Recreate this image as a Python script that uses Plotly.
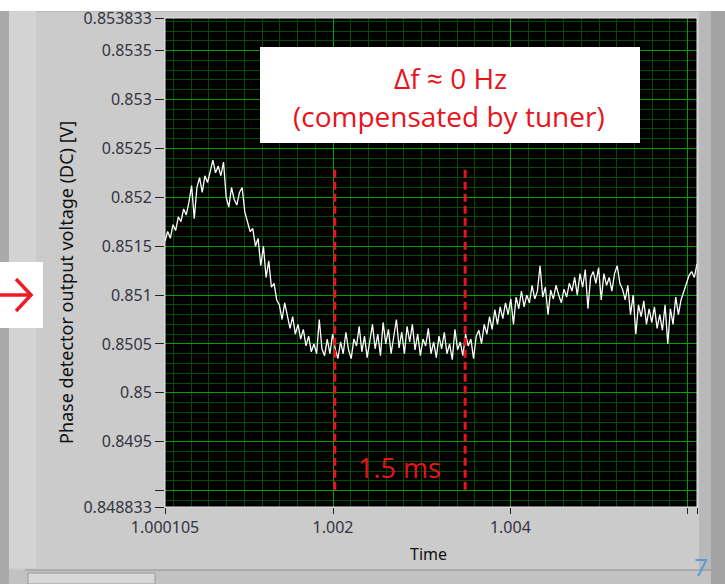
import plotly.graph_objects as go

# ---------------- data ----------------
t_start = 1.000105
t_end = 1.006105
n_pts = 201
dt = (t_end - t_start) / (n_pts - 1)
time = [t_start + i * dt for i in range(n_pts)]

voltage = [
    0.85155, 0.85165, 0.85158, 0.85172, 0.85166, 0.85180, 0.85175, 0.85188, 0.85182, 0.85195,
    0.85212, 0.85178, 0.85210, 0.85220, 0.85205, 0.85222, 0.85215, 0.85228, 0.85238, 0.85225,
    0.85232, 0.85222, 0.85236, 0.85200, 0.85190, 0.85210, 0.85198, 0.85192, 0.85205, 0.85210,
    0.85185, 0.85175, 0.85165, 0.85168, 0.85150, 0.85158, 0.85130, 0.85150, 0.85118, 0.85135,
    0.85108, 0.85112, 0.85095, 0.85090, 0.85075, 0.85092, 0.85080, 0.85066, 0.85078, 0.85060,
    0.85070, 0.85055, 0.85065, 0.85048, 0.85058, 0.85042, 0.85050, 0.85040, 0.85075, 0.85045,
    0.85038, 0.85055, 0.85040, 0.85060, 0.85045, 0.85035, 0.85052, 0.85040, 0.85062, 0.85044,
    0.85035, 0.85055, 0.85048, 0.85068, 0.85042, 0.85058, 0.85036, 0.85052, 0.85070, 0.85045,
    0.85060, 0.85038, 0.85072, 0.85050, 0.85065, 0.85040, 0.85058, 0.85075, 0.85046, 0.85062,
    0.85040, 0.85068, 0.85052, 0.85070, 0.85044, 0.85060, 0.85038, 0.85055, 0.85048, 0.85066,
    0.85040, 0.85052, 0.85036, 0.85058, 0.85045, 0.85062, 0.85040, 0.85050, 0.85034, 0.85065,
    0.85044, 0.85052, 0.85038, 0.85060, 0.85048, 0.85055, 0.85035, 0.85058, 0.85064, 0.85050,
    0.85070, 0.85060, 0.85078, 0.85065, 0.85085, 0.85070, 0.85088, 0.85076, 0.85092, 0.85080,
    0.85096, 0.85070, 0.85098, 0.85086, 0.85104, 0.85088, 0.85100, 0.85092, 0.85110, 0.85096,
    0.85104, 0.85130, 0.85098, 0.85108, 0.85080, 0.85105, 0.85096, 0.85110, 0.85100, 0.85092,
    0.85106, 0.85098, 0.85112, 0.85104, 0.85118, 0.85100, 0.85122, 0.85108, 0.85126, 0.85086,
    0.85118, 0.85124, 0.85112, 0.85128, 0.85095, 0.85122, 0.85110, 0.85118, 0.85104, 0.85122,
    0.85130, 0.85112, 0.85106, 0.85095, 0.85110, 0.85080, 0.85100, 0.85060, 0.85090, 0.85078,
    0.85094, 0.85070, 0.85086, 0.85072, 0.85088, 0.85066, 0.85080, 0.85064, 0.85090, 0.85050,
    0.85086, 0.85070, 0.85098, 0.85080, 0.85095, 0.85104, 0.85112, 0.85120, 0.85124, 0.85118,
    0.85132,
]

marker_times = [1.00202, 1.00349]
marker_v_range = [0.84901, 0.85230]

x_tick_vals = [1.000105, 1.002, 1.004, 1.006, 1.006105]
x_tick_text = ["1.000105", "1.002", "1.004", "", "1.006105"]
y_tick_vals = [0.848833, 0.849, 0.8495, 0.85, 0.8505, 0.851, 0.8515, 0.852, 0.8525, 0.853, 0.8535, 0.853833]
y_tick_text = ["0.848833", "", "0.8495", "0.85", "0.8505", "0.851", "0.8515", "0.852", "0.8525", "0.853", "0.8535", "0.853833"]

y_title = "Phase detector output voltage (DC) [V]"
x_title = "Time"
box_line1 = "Δf ≈ 0 Hz"
box_line2 = "(compensated by tuner)"
span_label = "1.5 ms"

# ---------------- layout helpers ----------------
W, H = 725, 584
L, R, T, B = 165, 697, 18, 507


def px(x):
    return (x - L) / (R - L)


def py(y):
    return (B - y) / (B - T)


RED = "#e8131b"
PANEL = "#cbcbcb"

fig = go.Figure()

fig.add_trace(go.Scatter(x=time, y=voltage, mode="lines",
                         line=dict(color="white", width=1.3), hoverinfo="skip"))
for mt in marker_times:
    fig.add_trace(go.Scatter(x=[mt, mt], y=marker_v_range, mode="lines",
                             line=dict(color=RED, width=3, dash="8px,4px"), hoverinfo="skip"))

tickfont = dict(family="Noto Sans, sans-serif", size=16, color="#34343f")

fig.update_layout(
    width=W, height=H,
    margin=dict(l=L, r=W - R, t=T, b=H - B, pad=0),
    paper_bgcolor=PANEL,
    plot_bgcolor="black",
    showlegend=False,
    xaxis=dict(
        range=[t_start, t_end], tickmode="array", tickvals=x_tick_vals, ticktext=x_tick_text,
        ticks="outside", ticklen=6, tickcolor="#222", tickwidth=1, automargin=False,
        showgrid=True, gridcolor="#00a000", gridwidth=1,
        zeroline=False, showline=False, tickfont=tickfont,
        minor=dict(tickmode="linear", tick0=1.002, dtick=0.0002, showgrid=True,
                   gridcolor="#004d00", gridwidth=1, ticks=""),
    ),
    yaxis=dict(
        range=[0.848833, 0.853833], tickmode="array", tickvals=y_tick_vals, ticktext=y_tick_text,
        ticks="outside", ticklen=9, tickcolor="#222", tickwidth=1, automargin=False,
        showgrid=True, gridcolor="#00a000", gridwidth=1,
        zeroline=False, showline=False, tickfont=tickfont,
        minor=dict(tickmode="linear", tick0=0.85, dtick=0.0001, showgrid=True,
                   gridcolor="#004d00", gridwidth=1, ticks=""),
    ),
)

shapes = []
# top white strip (slide background)
shapes.append(dict(type="rect", xref="paper", yref="paper", x0=px(0), x1=px(W), y0=py(11), y1=py(0),
                   fillcolor="white", line=dict(width=0), layer="below"))
shapes.append(dict(type="line", xref="paper", yref="paper", x0=px(0), x1=px(W), y0=py(11.5), y1=py(11.5),
                   line=dict(color="#b8b8b8", width=1), layer="below"))
# left edge strips
shapes.append(dict(type="rect", xref="paper", yref="paper", x0=px(0), x1=px(9), y0=py(H), y1=py(11),
                   fillcolor="#a9a9a9", line=dict(width=0), layer="below"))
shapes.append(dict(type="rect", xref="paper", yref="paper", x0=px(9), x1=px(36), y0=py(568), y1=py(11),
                   fillcolor="#d3d3d3", line=dict(width=0), layer="below"))
# right edge strips
shapes.append(dict(type="rect", xref="paper", yref="paper", x0=px(699), x1=px(711), y0=py(H), y1=py(11),
                   fillcolor="#b9b9b9", line=dict(width=0), layer="below"))
shapes.append(dict(type="rect", xref="paper", yref="paper", x0=px(711), x1=px(W), y0=py(H), y1=py(11),
                   fillcolor="#a2a2a2", line=dict(width=0), layer="below"))
# bottom bar
shapes.append(dict(type="rect", xref="paper", yref="paper", x0=px(9), x1=px(711), y0=py(H), y1=py(570),
                   fillcolor="#c2c2c2", line=dict(width=0), layer="below"))
shapes.append(dict(type="line", xref="paper", yref="paper", x0=px(25), x1=px(711), y0=py(570), y1=py(570),
                   line=dict(color="#8e8e8e", width=1), layer="below"))
shapes.append(dict(type="rect", xref="paper", yref="paper", x0=px(28), x1=px(155), y0=py(H), y1=py(573),
                   fillcolor="#d8d8d8", line=dict(color="#9a9a9a", width=1), layer="below"))
# plot border
shapes.append(dict(type="rect", xref="paper", yref="paper", x0=0, x1=1, y0=0, y1=1,
                   line=dict(color="#e6e6e6", width=1), layer="above"))
# white text box inside the plot
shapes.append(dict(type="rect", xref="paper", yref="paper", x0=px(260), x1=px(640), y0=py(143), y1=py(47),
                   fillcolor="white", line=dict(width=0), layer="above"))
# white box with arrow on the left
shapes.append(dict(type="rect", xref="paper", yref="paper", x0=px(0), x1=px(43), y0=py(328), y1=py(262),
                   fillcolor="white", line=dict(width=0), layer="below"))
arrow_path = (f"M {px(0)},{py(295)} L {px(31)},{py(295)} "
              f"M {px(16)},{py(279)} L {px(31)},{py(295)} L {px(16)},{py(311)}")
shapes.append(dict(type="path", xref="paper", yref="paper", path=arrow_path,
                   line=dict(color="#ee1c24", width=3.5), layer="below"))
fig.update_layout(shapes=shapes)

ann_font = "Open Sans, sans-serif"
annotations = [
    dict(xref="paper", yref="paper", x=px(450), y=py(78), text=box_line1, showarrow=False,
         font=dict(family=ann_font, size=28, color=RED), xanchor="center", yanchor="middle"),
    dict(xref="paper", yref="paper", x=px(449), y=py(116), text=box_line2, showarrow=False,
         font=dict(family=ann_font, size=28, color=RED), xanchor="center", yanchor="middle"),
    dict(x=(marker_times[0] + marker_times[1]) / 2, y=0.84924, text=span_label, showarrow=False,
         font=dict(family=ann_font, size=27, color=RED), xanchor="center", yanchor="middle"),
    dict(xref="paper", yref="paper", x=px(66), y=py(283), text=y_title, showarrow=False, textangle=-90,
         font=dict(family="Noto Sans, sans-serif", size=18, color="#111"), xanchor="center", yanchor="middle"),
    dict(xref="paper", yref="paper", x=px(428), y=py(554), text=x_title, showarrow=False,
         font=dict(family="Noto Sans, sans-serif", size=16, color="#111"), xanchor="center", yanchor="middle"),
    dict(xref="paper", yref="paper", x=px(701), y=py(566), text="7", showarrow=False,
         font=dict(family="Lato, sans-serif", size=24, color="#5b9bd5"), xanchor="center", yanchor="middle"),
]
fig.update_layout(annotations=annotations)

fig.write_html("out.html", config={"displayModeBar": False},
               post_script="document.body.style.margin='0';document.body.style.overflow='hidden';")
